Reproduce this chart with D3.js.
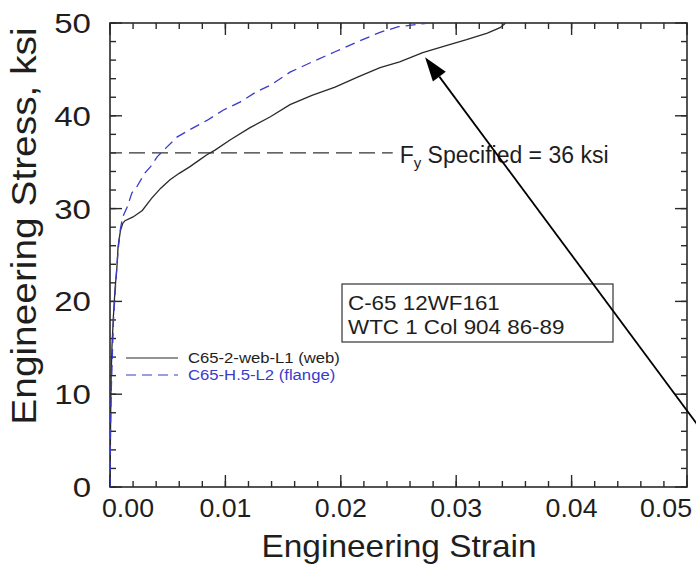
<!DOCTYPE html>
<html>
<head>
<meta charset="utf-8">
<script src="https://cdn.jsdelivr.net/npm/d3@7"></script>
<style>
  body { margin: 0; background: #fff; }
  svg text { font-family: "Liberation Sans", Arial, Helvetica, sans-serif; fill: #1e1e1e; }
</style>
</head>
<body>
<div id="chart"></div>
<script>
// C65-2-web-L1 (web) : engineering strain / stress (ksi)
var webStrain = [0, 0.00003, 0.00006, 0.0001, 0.00017, 0.0003, 0.00043, 0.0006, 0.0007, 0.0009,
  0.0011, 0.0013, 0.0020, 0.0028, 0.0036, 0.0044, 0.0052, 0.0060, 0.0069, 0.0077,
  0.0084, 0.0091, 0.0104, 0.0121, 0.0139, 0.0156, 0.0175, 0.0195, 0.0215, 0.0234,
  0.0251, 0.0271, 0.0292, 0.0309, 0.0327, 0.0338, 0.0342, 0.0343];
var webStress = [0, 4, 8, 12, 15.1, 18.5, 21.2, 23.7, 25.9, 27.6,
  28.4, 28.7, 29.1, 29.8, 31.1, 32.2, 33.1, 33.8, 34.5, 35.2,
  35.8, 36.3, 37.4, 38.7, 39.9, 41.2, 42.2, 43.1, 44.2, 45.2,
  45.8, 46.8, 47.6, 48.2, 48.9, 49.5, 49.9, 50.5];

// C65-H.5-L2 (flange)
var flangeStrain = [0, 0.00003, 0.0001, 0.0002, 0.0003, 0.0005, 0.0007, 0.0009, 0.0011, 0.0015,
  0.0019, 0.0023, 0.0030, 0.0035, 0.0041, 0.0049, 0.0058, 0.0069, 0.0084, 0.0098,
  0.0113, 0.0127, 0.0139, 0.0156, 0.0175, 0.0195, 0.0215, 0.0234, 0.0250, 0.0270, 0.0295];
var flangeStress = [0, 5, 10, 14, 18, 22, 25.5, 27.8, 29.1, 30.2,
  31.7, 32.3, 33.8, 34.5, 35.6, 36.6, 37.7, 38.5, 39.5, 40.6,
  41.5, 42.6, 43.3, 44.7, 45.8, 46.9, 48.0, 49.0, 49.6, 49.9, 50.2];

var xTicks = [0, 0.01, 0.02, 0.03, 0.04, 0.05];
var xTickLabels = ["0.00", "0.01", "0.02", "0.03", "0.04", "0.05"];
var yTicks = [0, 10, 20, 30, 40, 50];
var yTickLabels = ["0", "10", "20", "30", "40", "50"];
var seriesNames = ["C65-2-web-L1 (web)", "C65-H.5-L2 (flange)"];
var fySpecified = 36;
var boxLines = ["C-65 12WF161", "WTC 1 Col 904 86-89"];
// arrow tail (off the right edge) and tip, in data units
var arrowStrain = [0.0530, 0.0273];
var arrowStress = [3.2, 46.3];

var W = 696, H = 568;
var margin = {top: 23, right: 9, bottom: 81, left: 110},
  width = W - margin.left - margin.right,
  height = H - margin.top - margin.bottom;

var blue = "#3a3acb";
var ink = "#2a2a2a";

var x = d3.scaleLinear().domain([0, 0.05]).range([0, width]);
var y = d3.scaleLinear().domain([0, 50]).range([height, 0]);

var svg = d3.select("#chart").append("svg")
  .attr("width", W).attr("height", H);

var g = svg.append("g")
  .attr("transform", "translate(" + margin.left + "," + margin.top + ")");

g.append("rect")
  .attr("width", width).attr("height", height)
  .attr("fill", "none").attr("stroke", ink).attr("stroke-width", 1.6);

// inward ticks on all four sides: minor every 0.002 / 2 ksi, major at the labels
function xTickMarks(vals, len) {
  [[height, height - len], [0, len]].forEach(function(ys) {
    g.selectAll(null).data(vals).enter().append("line")
      .attr("x1", function(d) { return x(d); }).attr("x2", function(d) { return x(d); })
      .attr("y1", ys[0]).attr("y2", ys[1])
      .attr("stroke", ink).attr("stroke-width", 1.4);
  });
}
function yTickMarks(vals, len) {
  [[0, len], [width, width - len]].forEach(function(xs) {
    g.selectAll(null).data(vals).enter().append("line")
      .attr("y1", function(d) { return y(d); }).attr("y2", function(d) { return y(d); })
      .attr("x1", xs[0]).attr("x2", xs[1])
      .attr("stroke", ink).attr("stroke-width", 1.4);
  });
}
xTickMarks(x.ticks(25), 6);
xTickMarks(xTicks, 12);
yTickMarks(y.ticks(25), 6);
yTickMarks(yTicks, 12);

// tick labels
g.selectAll(".xl").data(xTicks).enter().append("text")
  .attr("class", "xl")
  .attr("text-anchor", "middle")
  .attr("font-size", 25)
  .attr("transform", function(d, i) {
    var off = i === 0 ? 18 : (i === xTicks.length - 1 ? -21 : 0);
    return "translate(" + (x(d) + off) + "," + (height + 30) + ") scale(1.07,1)";
  })
  .text(function(d, i) { return xTickLabels[i]; });

g.selectAll(".yl").data(yTicks).enter().append("text")
  .attr("class", "yl")
  .attr("text-anchor", "end")
  .attr("font-size", 28)
  .attr("dy", "0.36em")
  .attr("transform", function(d) {
    return "translate(-19," + y(d) + ") scale(1.18,1)";
  })
  .text(function(d, i) { return yTickLabels[i]; });

// axis titles
svg.append("text")
  .attr("text-anchor", "middle")
  .attr("font-size", 32)
  .attr("transform", "translate(399,557) scale(1.045,1)")
  .text("Engineering Strain");

svg.append("text")
  .attr("text-anchor", "middle")
  .attr("font-size", 35)
  .attr("transform", "translate(36,226) rotate(-90) scale(1.11,1)")
  .text("Engineering Stress, ksi");

// specified yield line
g.append("line")
  .attr("x1", x(0)).attr("x2", x(0.0245))
  .attr("y1", y(fySpecified)).attr("y2", y(fySpecified))
  .attr("stroke", "#333").attr("stroke-width", 1.2)
  .attr("stroke-dasharray", "16,7").attr("stroke-dashoffset", 4);

var fy = g.append("text")
  .attr("x", x(0.0251)).attr("y", y(fySpecified) + 10)
  .attr("font-size", 23);
fy.append("tspan").text("F");
fy.append("tspan").attr("font-size", 15).attr("dy", 5).text("y");
fy.append("tspan").attr("dy", -5).text(" Specified = " + fySpecified + " ksi");

// curves, clipped to the frame
var clipId = "plotclip";
svg.append("clipPath").attr("id", clipId)
  .append("rect").attr("width", width).attr("height", height);

var line = d3.line()
  .x(function(d) { return x(d[0]); })
  .y(function(d) { return y(d[1]); });

var curves = g.append("g").attr("clip-path", "url(#" + clipId + ")");
curves.append("path")
  .attr("d", line(d3.zip(webStrain, webStress)))
  .attr("fill", "none").attr("stroke", ink).attr("stroke-width", 1.3);
curves.append("path")
  .attr("d", line(d3.zip(flangeStrain, flangeStress)))
  .attr("fill", "none").attr("stroke", blue).attr("stroke-width", 1.3)
  .attr("stroke-dasharray", "10,6");

// legend
var leg = g.append("g").attr("transform", "translate(16,335)");
seriesNames.forEach(function(name, i) {
  var yy = i * 17;
  leg.append("line")
    .attr("x1", 0).attr("x2", 52).attr("y1", yy).attr("y2", yy)
    .attr("stroke", i === 0 ? ink : blue).attr("stroke-width", 1.2)
    .attr("stroke-dasharray", i === 0 ? null : "10,6");
  leg.append("text")
    .attr("font-size", 14.5)
    .attr("dy", "0.36em")
    .attr("transform", "translate(62," + yy + ") scale(1.15,1)")
    .style("fill", i === 0 ? "#1e1e1e" : blue)
    .text(name);
});

// specimen box
var box = g.append("g").attr("transform", "translate(232,261)");
box.append("rect")
  .attr("width", 271).attr("height", 58)
  .attr("fill", "#fff").attr("stroke", "#333").attr("stroke-width", 1.2);
boxLines.forEach(function(t, i) {
  box.append("text")
    .attr("font-size", 20)
    .attr("transform", "translate(6," + (26 + i * 24) + ") scale(1.12,1)")
    .text(t);
});

// arrow pointing at the web curve
var x0 = margin.left + x(arrowStrain[0]), y0 = margin.top + y(arrowStress[0]),
  x1 = margin.left + x(arrowStrain[1]), y1 = margin.top + y(arrowStress[1]);
var ang = Math.atan2(y1 - y0, x1 - x0), headLen = 24, headHalf = 8;
var bx = x1 - headLen * Math.cos(ang), by = y1 - headLen * Math.sin(ang);
svg.append("line")
  .attr("x1", x0).attr("y1", y0).attr("x2", bx).attr("y2", by)
  .attr("stroke", "#000").attr("stroke-width", 1.8);
svg.append("path")
  .attr("d", "M" + x1 + "," + y1 +
    "L" + (bx + headHalf * Math.sin(ang)) + "," + (by - headHalf * Math.cos(ang)) +
    "L" + (bx - headHalf * Math.sin(ang)) + "," + (by + headHalf * Math.cos(ang)) + "Z")
  .attr("fill", "#000");
</script>
</body>
</html>
